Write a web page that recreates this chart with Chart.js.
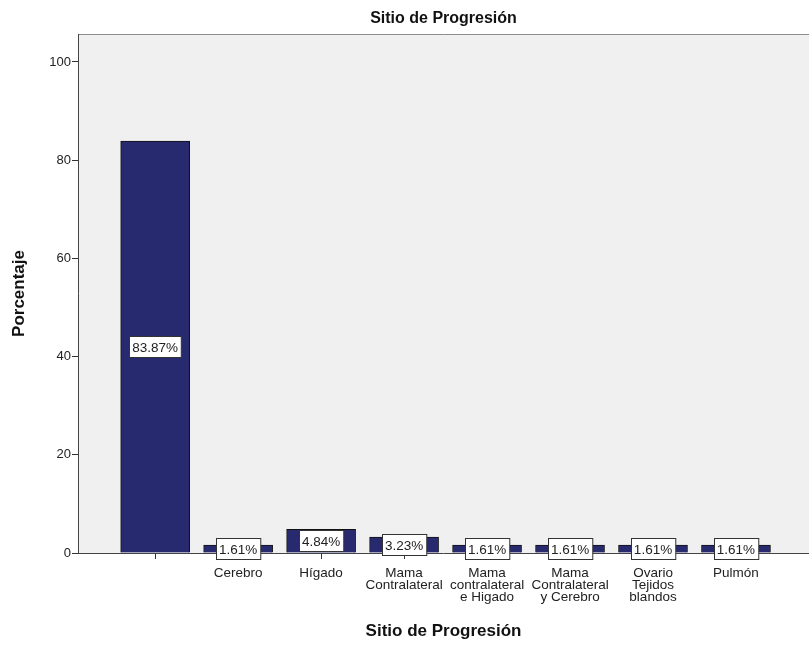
<!DOCTYPE html>
<html><head><meta charset="utf-8">
<script src="https://cdn.jsdelivr.net/npm/chart.js@4.4.1/dist/chart.umd.min.js"></script>
<style>html,body{margin:0;padding:0;background:#fff;overflow:hidden}#wrap{width:809px;height:645px}</style>
</head><body><div id="wrap"><canvas id="c" width="809" height="645"></canvas></div>
<script>
const chartTitle = "Sitio de Progresión";
const xTitle = "Sitio de Progresión";
const yTitle = "Porcentaje";
const categories = [
  [""],
  ["Cerebro"],
  ["Hígado"],
  ["Mama", "Contralateral"],
  ["Mama", "contralateral", "e Higado"],
  ["Mama", "Contralateral", "y Cerebro"],
  ["Ovario", "Tejidos", "blandos"],
  ["Pulmón"]
];
const percentages = [83.87, 1.61, 4.84, 3.23, 1.61, 1.61, 1.61, 1.61];
const pctLabels = ["83.87%", "1.61%", "4.84%", "3.23%", "1.61%", "1.61%", "1.61%", "1.61%"];
const yTicks = [0, 20, 40, 60, 80, 100];

const FONT = "'Liberation Sans', Arial, sans-serif";

const decor = {
  id: 'decor',
  beforeDatasetsDraw(chart) {
    const {ctx, chartArea: a} = chart;
    ctx.save();
    ctx.fillStyle = '#f0f0f0';
    ctx.fillRect(a.left, a.top, a.right - a.left, a.bottom - a.top);
    ctx.strokeStyle = '#8c8c8c';
    ctx.lineWidth = 1;
    ctx.beginPath();
    ctx.moveTo(a.left, a.top + 0.5); ctx.lineTo(a.right, a.top + 0.5);
    ctx.stroke();
    ctx.restore();
  },
  afterDatasetsDraw(chart) {
    const {ctx, chartArea: a} = chart;
    ctx.save();
    ctx.strokeStyle = '#444';
    ctx.lineWidth = 1;
    ctx.beginPath();
    ctx.moveTo(a.left + 0.5, a.top); ctx.lineTo(a.left + 0.5, a.bottom);
    ctx.moveTo(a.left, a.bottom + 0.5); ctx.lineTo(a.right, a.bottom + 0.5);
    ctx.stroke();
    const meta = chart.getDatasetMeta(0);
    ctx.font = '13.5px ' + FONT;
    ctx.textAlign = 'center';
    ctx.textBaseline = 'middle';
    meta.data.forEach((bar, i) => {
      const txt = pctLabels[i];
      const cy = (bar.y + bar.base) / 2;
      const w = ctx.measureText(txt).width + 6;
      const h = 21;
      const x0 = Math.round(bar.x - w / 2) + 0.5;
      const y0 = Math.round(cy - h / 2) + 0.5;
      ctx.fillStyle = '#fff';
      ctx.fillRect(x0, y0, w, h);
      ctx.strokeStyle = '#333';
      ctx.strokeRect(x0, y0, w, h);
      ctx.fillStyle = '#222';
      ctx.fillText(txt, bar.x, cy + 1);
    });
    ctx.restore();
  },
  afterDraw(chart) {
    const {ctx, chartArea: a} = chart;
    ctx.save();
    ctx.font = 'bold 16px ' + FONT;
    ctx.fillStyle = '#111';
    ctx.textAlign = 'center';
    ctx.textBaseline = 'middle';
    ctx.fillText(chartTitle, (a.left + 809) / 2, 19);
    ctx.restore();
  }
};

new Chart(document.getElementById('c'), {
  type: 'bar',
  data: {
    datasets: [{
      data: percentages.map((v, i) => ({x: i, y: v})),
      backgroundColor: '#272a6f',
      borderColor: '#111',
      borderWidth: 1,
      barThickness: 69
    }]
  },
  options: {
    responsive: false,
    animation: false,
    devicePixelRatio: 1,
    layout: {padding: {top: 34, right: 0, left: 0, bottom: 0}},
    plugins: {legend: {display: false}, tooltip: {enabled: false}, title: {display: false}},
    scales: {
      x: {
        type: 'linear',
        offset: false,
        min: -0.93,
        max: 7.88,
        afterBuildTicks(s) { s.ticks = categories.map((c, i) => ({value: i})); },
        afterFit(s) { s.height = 92; },
        grid: {offset: false, drawOnChartArea: false, drawTicks: true, tickLength: 6, color: '#333', tickWidth: 1},
        border: {display: false},
        ticks: {
          autoSkip: false,
          maxRotation: 0,
          minRotation: 0,
          padding: 8,
          color: '#222',
          font: {family: FONT, size: 13.5, lineHeight: 0.9},
          callback: (v) => categories[v] || ''
        },
        title: {display: true, text: xTitle, color: '#111', font: {family: FONT, size: 17, weight: 'bold'}, padding: {top: 8, bottom: 3}}
      },
      y: {
        min: 0,
        max: 105.7,
        afterBuildTicks(s) { s.ticks = yTicks.map(v => ({value: v})); },
        afterFit(s) { s.width = 78; },
        grid: {drawOnChartArea: false, drawTicks: true, tickLength: 6, color: '#333'},
        border: {display: false},
        ticks: {color: '#222', padding: 1, font: {family: FONT, size: 13}},
        title: {display: true, text: yTitle, color: '#111', font: {family: FONT, size: 17, weight: 'bold'}, padding: {top: 9, bottom: 6}}
      }
    }
  },
  plugins: [decor]
});
</script></body></html>
